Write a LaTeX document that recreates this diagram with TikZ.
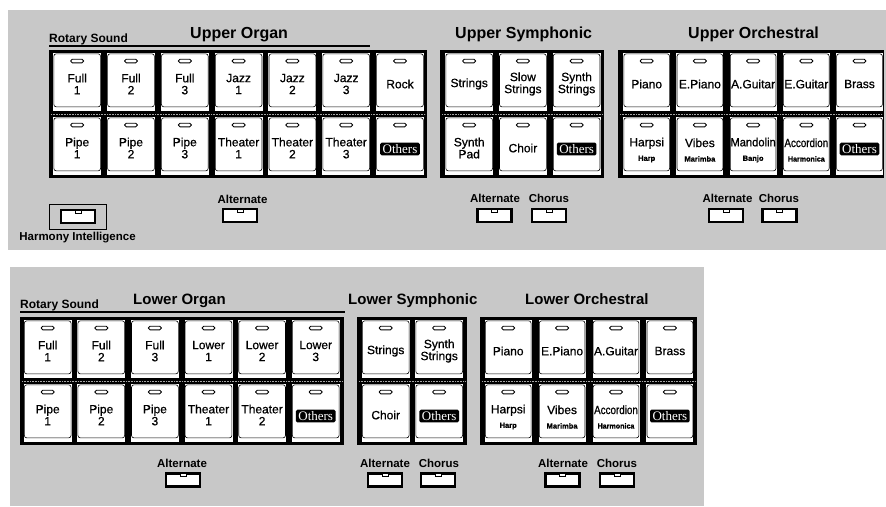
\documentclass[tikz,border=0pt]{standalone}
\usepackage{fontspec}
\setmainfont{Liberation Sans}
\newfontfamily\othersfont{Liberation Serif}
\newfontfamily\keyfont[FakeBold=0.7]{Liberation Sans}
\usetikzlibrary{calc}
\definecolor{panelgray}{RGB}{200,200,200}
\newcommand\fs[1]{\fontsize{#1}{#1}\selectfont}
\tikzset{
  kframe/.style={fill=black, draw=none, inner sep=0, anchor=north west},
  keycellst/.style={fill=white, draw=none, inner sep=0, anchor=north west, minimum height=58pt},
  keyedge/.style={draw=black, line width=0.6pt, rounded corners=2.5pt},
  led/.style={draw=black, line width=0.9pt, fill=white, rounded corners=1.7pt, minimum width=13pt, minimum height=3.6pt, inner sep=0},
  keytxt/.style={align=center, inner sep=0, font=\keyfont\fs{12}},
  othersbox/.style={fill=black, text=white, rounded corners=1.5pt, inner xsep=2.5pt, inner ysep=1.8pt, font=\othersfont\fs{13}},
  tab/.style={draw=black, line width=2.4pt, fill=white, minimum width=34pt, minimum height=13pt, inner sep=0},
  notch/.style={draw=black, line width=0.7pt, fill=white, minimum width=6pt, minimum height=3pt, inner sep=0},
  tablbl/.style={font=\bfseries\fs{11.5}, inner sep=0},
  head/.style={font=\bfseries\fs{16}, inner sep=0, anchor=base west},
  lhead/.style={font=\bfseries\fs{15}, inner sep=0, anchor=base west},
  rot/.style={font=\bfseries\fs{12}, inner sep=0, anchor=base west},
  rotline/.style={line width=1.8pt, draw=black},
  sepline/.style={draw=gray!70, line width=0.6pt, densely dotted},
}
% cell: name, x, y(top), width
\newcommand\kcell[4]{%
  \node[keycellst, minimum width=#4pt] (#1) at (#2,#3) {};
  \draw[keyedge] ($(#1.north west)+(0.8,0.8)$) rectangle ($(#1.south east)+(-0.8,-4.5)$);
  \node[led] (#1-led) at ($(#1.north)+(0,8)$) {};
}
\newcommand\keyb[5]{\kcell{#1}{#2}{#3}{#4}\node[keytxt] (#1-t) at ($(#1.north)+(0,31)$) {#5};}
\newcommand\keys[6]{\kcell{#1}{#2}{#3}{#4}\node[keytxt] (#1-t) at ($(#1.north)+(0,33)$) {#5\\[2.5pt]{\bfseries\fs{7.5}#6}};}
\newcommand\okey[4]{\kcell{#1}{#2}{#3}{#4}\node[othersbox] (#1-t) at ($(#1.north)+(0,32)$) {Others};}
\newcommand\tabb[3]{%
  \node[tab] (#1) at (#2,#3) {};
  \node[notch] (#1-n) at ($(#1.north)+(0,2.6)$) {};
}
\begin{document}
\begin{tikzpicture}[x=1pt,y=-1pt]
\useasboundingbox (0,0) rectangle (886,506);
\fill[white] (0,0) rectangle (886,506);
% panels
\fill[panelgray] (8,10) rectangle (886,250);
\fill[panelgray] (10,267) rectangle (704,506);

% ---------------- UPPER ----------------
\node[rot] (urot) at (49,42) {Rotary Sound};
\coordinate (urotA) at (49,46);
\coordinate (urotB) at (370,46);
\draw[rotline] (urotA) -- (urotB);
\node[head] (uoh) at (190,38) {Upper Organ};
\node[head] (ush) at (455,38) {Upper Symphonic};
\node[head] (uorh) at (688,38) {Upper Orchestral};

% frames
\node[kframe, minimum width=378pt, minimum height=128pt] (uoF) at (49,50) {};
\node[kframe, minimum width=164pt, minimum height=128pt] (usF) at (440,50) {};
\node[kframe, minimum width=266pt, minimum height=128pt] (uorF) at (618,50) {};
\draw[sepline] ($(uoF.west)+(2,0)$) -- ($(uoF.east)+(-2,0)$);
\draw[sepline] ($(usF.west)+(2,0)$) -- ($(usF.east)+(-2,0)$);
\draw[sepline] ($(uorF.west)+(2,0)$) -- ($(uorF.east)+(-2,0)$);

% upper organ
\keyb{uo1}{53}{53}{48}{Full\\1}
\keyb{uo2}{106.8}{53}{48}{Full\\2}
\keyb{uo3}{160.6}{53}{48}{Full\\3}
\keyb{uo4}{214.4}{53}{48}{Jazz\\1}
\keyb{uo5}{268.2}{53}{48}{Jazz\\2}
\keyb{uo6}{322}{53}{48}{Jazz\\3}
\keyb{uo7}{375.8}{53}{48}{Rock}
\keyb{uo8}{53}{117}{48}{Pipe\\1}
\keyb{uo9}{106.8}{117}{48}{Pipe\\2}
\keyb{uo10}{160.6}{117}{48}{Pipe\\3}
\keyb{uo11}{214.4}{117}{48}{Theater\\1}
\keyb{uo12}{268.2}{117}{48}{Theater\\2}
\keyb{uo13}{322}{117}{48}{Theater\\3}
\okey{uo14}{375.8}{117}{48}

% upper symphonic
\keyb{us1}{445}{53}{48}{Strings}
\keyb{us2}{498.7}{53}{48}{Slow\\Strings}
\keyb{us3}{552.4}{53}{48}{Synth\\Strings}
\keyb{us4}{445}{117}{48}{Synth\\Pad}
\keyb{us5}{498.7}{117}{48}{Choir}
\okey{us6}{552.4}{117}{48}

% upper orchestral
\keyb{ur1}{623}{53}{47}{Piano}
\keyb{ur2}{676.2}{53}{47}{E.Piano}
\keyb{ur3}{729.4}{53}{47}{A.Guitar}
\keyb{ur4}{782.6}{53}{47}{E.Guitar}
\keyb{ur5}{835.8}{53}{47}{Brass}
\keys{ur6}{623}{117}{47}{Harpsi}{Harp}
\keys{ur7}{676.2}{117}{47}{Vibes}{Marimba}
\keys{ur8}{729.4}{117}{47}{\scalebox{0.93}[1]{Mandolin}}{Banjo}
\keys{ur9}{782.6}{117}{47}{\scalebox{0.82}[1]{Accordion}}{\scalebox{0.95}[1]{Harmonica}}
\okey{ur10}{835.8}{117}{47}

% small buttons upper
\node[draw=black, line width=1.3pt, minimum width=57pt, minimum height=25pt, inner sep=0] (hiF) at (78,217) {};
\tabb{hi}{78}{216.5}
\node[tablbl] (hil) at (77.5,237.5) {Harmony Intelligence};
\node[tablbl] (uoAl) at (242.5,199) {Alternate};
\tabb{uoA}{240}{215.5}
\node[tablbl] (usAl) at (495,198) {Alternate};
\tabb{usA}{494.5}{215.5}
\node[tablbl] (usCl) at (549,198) {Chorus};
\tabb{usC}{549}{215.5}
\node[tablbl] (urAl) at (727.5,198) {Alternate};
\tabb{urA}{726}{215.5}
\node[tablbl] (urCl) at (779,198) {Chorus};
\tabb{urC}{779.5}{215.5}

% ---------------- LOWER ----------------
\node[rot] (lrot) at (20,308) {Rotary Sound};
\coordinate (lrotA) at (20,312);
\coordinate (lrotB) at (345,312);
\draw[rotline] (lrotA) -- (lrotB);
\node[lhead] (loh) at (133,304) {Lower Organ};
\node[lhead] (lsh) at (348,304) {Lower Symphonic};
\node[lhead] (lorh) at (525,304) {Lower Orchestral};

\node[kframe, minimum width=324pt, minimum height=128pt] (loF) at (20,317) {};
\node[kframe, minimum width=110pt, minimum height=128pt] (lsF) at (357,317) {};
\node[kframe, minimum width=217pt, minimum height=128pt] (lorF) at (480,317) {};
\draw[sepline] ($(loF.west)+(2,0)$) -- ($(loF.east)+(-2,0)$);
\draw[sepline] ($(lsF.west)+(2,0)$) -- ($(lsF.east)+(-2,0)$);
\draw[sepline] ($(lorF.west)+(2,0)$) -- ($(lorF.east)+(-2,0)$);

% lower organ
\keyb{lo1}{23.5}{320}{48}{Full\\1}
\keyb{lo2}{77.1}{320}{48}{Full\\2}
\keyb{lo3}{130.7}{320}{48}{Full\\3}
\keyb{lo4}{184.3}{320}{48}{Lower\\1}
\keyb{lo5}{237.9}{320}{48}{Lower\\2}
\keyb{lo6}{291.5}{320}{48}{Lower\\3}
\keyb{lo7}{23.5}{384}{48}{Pipe\\1}
\keyb{lo8}{77.1}{384}{48}{Pipe\\2}
\keyb{lo9}{130.7}{384}{48}{Pipe\\3}
\keyb{lo10}{184.3}{384}{48}{Theater\\1}
\keyb{lo11}{237.9}{384}{48}{Theater\\2}
\okey{lo12}{291.5}{384}{48}

% lower symphonic
\keyb{ls1}{361.5}{320}{48}{Strings}
\keyb{ls2}{415}{320}{48}{Synth\\Strings}
\keyb{ls3}{361.5}{384}{48}{Choir}
\okey{ls4}{415}{384}{48}

% lower orchestral
\keyb{lr1}{484.5}{320}{47}{Piano}
\keyb{lr2}{538.4}{320}{47}{E.Piano}
\keyb{lr3}{592.3}{320}{47}{A.Guitar}
\keyb{lr4}{646.2}{320}{47}{Brass}
\keys{lr5}{484.5}{384}{47}{Harpsi}{Harp}
\keys{lr6}{538.4}{384}{47}{Vibes}{Marimba}
\keys{lr7}{592.3}{384}{47}{\scalebox{0.82}[1]{Accordion}}{\scalebox{0.95}[1]{Harmonica}}
\okey{lr8}{646.2}{384}{47}

% small buttons lower
\node[tablbl] (loAl) at (182,463) {Alternate};
\tabb{loA}{183}{480}
\node[tablbl] (lsAl) at (385,463) {Alternate};
\tabb{lsA}{385}{480}
\node[tablbl] (lsCl) at (439,463) {Chorus};
\tabb{lsC}{438}{480}
\node[tablbl] (lrAl) at (563,463) {Alternate};
\tabb{lrA}{562.5}{480}
\node[tablbl] (lrCl) at (617,463) {Chorus};
\tabb{lrC}{617}{480}
\end{tikzpicture}
\end{document}
